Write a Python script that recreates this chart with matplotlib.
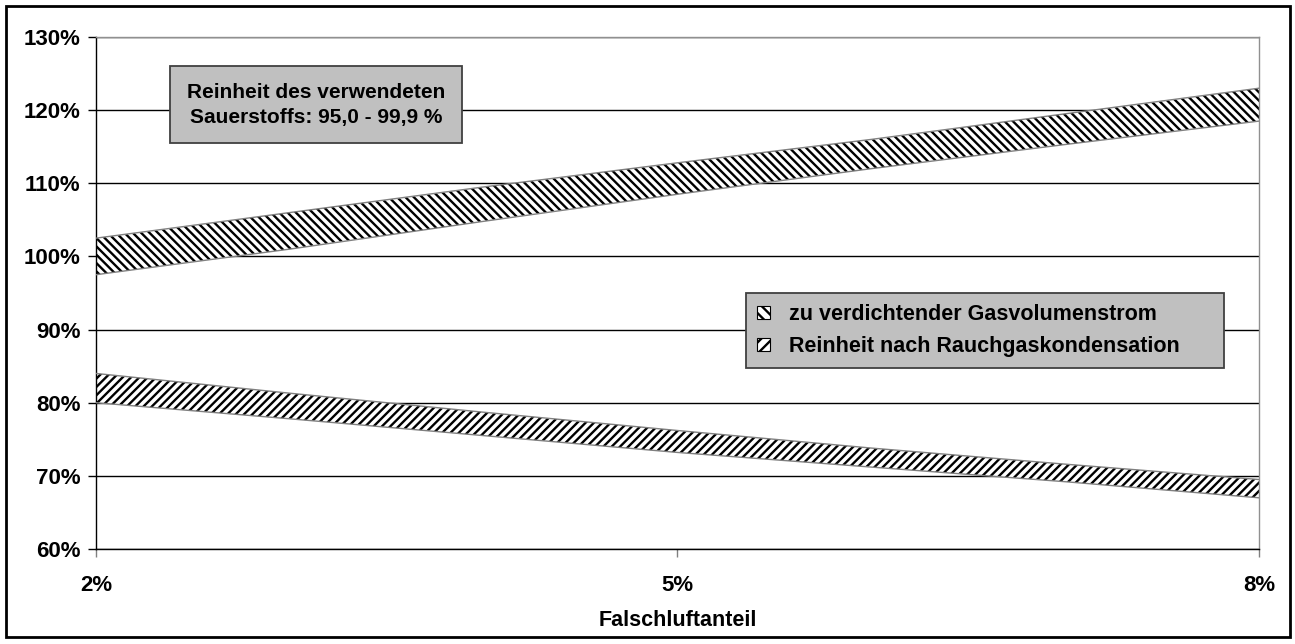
import matplotlib
matplotlib.use("Agg")
import matplotlib.pyplot as plt
from matplotlib.patches import Rectangle, Patch

plt.rcParams['font.family'] = ['Liberation Sans', 'DejaVu Sans']
plt.rcParams['font.weight'] = 'bold'
plt.rcParams['hatch.linewidth'] = 1.7

# Falschluftanteil in %
falschluft = [2, 3, 4, 5, 6, 7, 8]
# zu verdichtender Gasvolumenstrom (Band oben / unten) in %
gas_oben = [102.5, 106.0, 109.5, 112.8, 116.0, 119.5, 123.0]
gas_unten = [97.5, 101.0, 104.8, 108.5, 112.0, 115.3, 118.5]
# Reinheit nach Rauchgaskondensation (Band oben / unten) in %
rein_oben = [84.0, 81.3, 78.7, 76.2, 73.8, 71.6, 69.5]
rein_unten = [80.0, 77.8, 75.5, 73.2, 71.2, 69.2, 67.0]

x_ticks = [2, 5, 8]
y_ticks = [60, 70, 80, 90, 100, 110, 120, 130]
legend_labels = ["zu verdichtender Gasvolumenstrom", "Reinheit nach Rauchgaskondensation"]
info_text = "Reinheit des verwendeten\nSauerstoffs: 95,0 - 99,9 %"

fig = plt.figure(figsize=(12.95, 6.44), dpi=100)
ax = fig.add_axes([96 / 1295, 95 / 644, 1163 / 1295, 512 / 644])

for y in y_ticks:
    ax.axhline(y, color='black', lw=1.0, zorder=1)

# Baender: Schraffur schwarz, Rand grau
for unten, oben, muster in [(gas_unten, gas_oben, '\\\\\\\\'), (rein_unten, rein_oben, '////')]:
    ax.fill_between(falschluft, unten, oben, facecolor='white', edgecolor='black',
                    hatch=muster, lw=0, zorder=2)
    ax.plot(falschluft, oben, color='#808080', lw=1.0, zorder=3)
    ax.plot(falschluft, unten, color='#808080', lw=1.0, zorder=3)

ax.set_xlim(2, 8)
ax.set_ylim(60, 130)
ax.set_xticks(x_ticks)
ax.set_xticklabels([f"{v}%" for v in x_ticks], fontsize=16, fontweight='bold')
ax.set_yticks(y_ticks)
ax.set_yticklabels([f"{v}%" for v in y_ticks], fontsize=16, fontweight='bold')
ax.tick_params(axis='y', direction='out', length=6, width=1, pad=5, colors='black')
ax.tick_params(axis='x', direction='out', length=6, width=1, pad=13, color='#808080')
ax.set_xlabel("Falschluftanteil", fontsize=15.5, fontweight='bold', labelpad=10)

for side in ['left', 'bottom']:
    ax.spines[side].set_color('black')
    ax.spines[side].set_linewidth(1.0)
for side in ['top', 'right']:
    ax.spines[side].set_color('#909090')
    ax.spines[side].set_linewidth(1.0)

ax.text(0.189, 0.868, info_text, transform=ax.transAxes, ha='center', va='center',
        fontsize=15, fontweight='bold', linespacing=1.4, zorder=5,
        bbox=dict(boxstyle='square,pad=0.8', facecolor='#c0c0c0', edgecolor='#404040', lw=1.3))

handles = [Patch(facecolor='white', edgecolor='black', hatch='\\\\\\', lw=0.8),
           Patch(facecolor='white', edgecolor='black', hatch='///', lw=0.8)]
leg = ax.legend(handles, legend_labels, loc='center',
                bbox_to_anchor=(0.559, 0.357, 0.411, 0.139), mode='expand',
                fontsize=15.5, frameon=True, fancybox=False, framealpha=1,
                handlelength=0.6, handleheight=0.6, handletextpad=0.9,
                labelspacing=0.5, borderpad=0.5, borderaxespad=0)
leg.get_frame().set_facecolor('#c0c0c0')
leg.get_frame().set_edgecolor('#404040')
leg.get_frame().set_linewidth(1.3)
leg.set_zorder(5)
for t in leg.get_texts():
    t.set_fontweight('bold')

fig.patches.append(Rectangle((6 / 1295, 7 / 644), 1284 / 1295, 631 / 644, transform=fig.transFigure,
                             fill=False, edgecolor='black', lw=2))

fig.savefig("out.png", dpi=100)
